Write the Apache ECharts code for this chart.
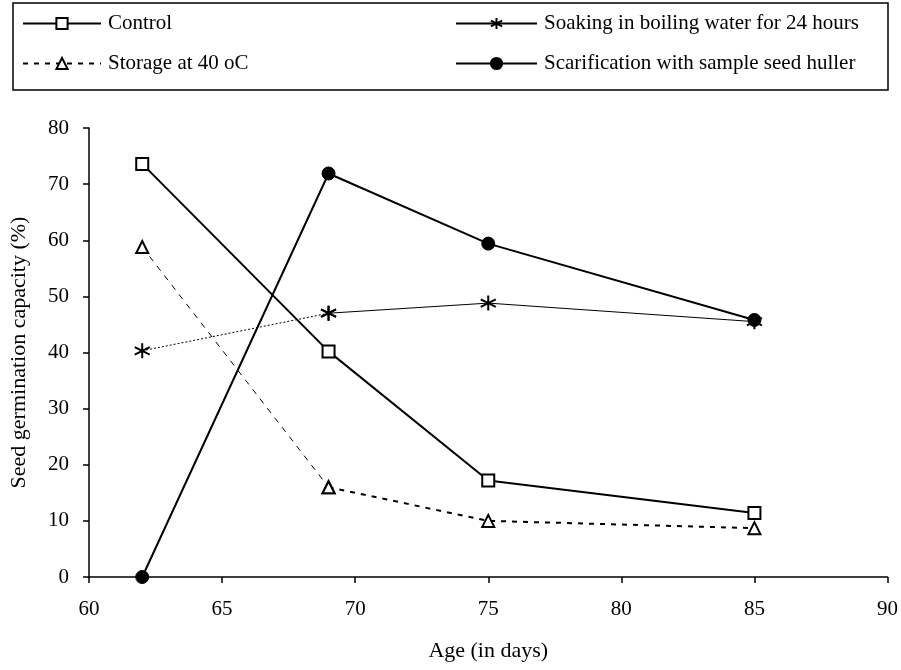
<!DOCTYPE html>
<html>
<head>
<meta charset="utf-8">
<script src="https://cdn.jsdelivr.net/npm/echarts@6/dist/echarts.min.js"></script>
<style>
html,body{margin:0;padding:0;background:#fff;}
#chart{width:901px;height:670px;}
</style>
</head>
<body>
<div id="chart"></div>
<script>
// ---- data ----
var ages = [62, 69, 75, 85];
var control = [73.6, 40.2, 17.2, 11.4];
var soaking = [40.3, 47.0, 48.8, 45.5];
var storage = [58.8, 16.0, 10.0, 8.7];
var scarification = [0, 71.9, 59.4, 45.8];
var seriesNames = ['Control', 'Soaking in boiling water for 24 hours', 'Storage at 40 oC', 'Scarification with sample seed huller'];
var xTicks = [60, 65, 70, 75, 80, 85, 90];
var yTicks = [0, 10, 20, 30, 40, 50, 60, 70, 80];

function pts(vals, from, to) {
  var out = [];
  for (var i = from; i <= to; i++) out.push([ages[i], vals[i]]);
  return out;
}

var FONT = 'Liberation Serif';
var FS = 21;
var starPath = 'path://M0,-10L0,10M-8.66,-5L8.66,5M-8.66,5L8.66,-5';

var chart = echarts.init(document.getElementById('chart'));

function legendAt(name, left, top, w) {
  return {
    data: [name], left: left, top: top, padding: 0, orient: 'horizontal',
    itemWidth: w, itemHeight: 14, itemGap: 0, selectedMode: false,
    textStyle: {fontFamily: FONT, fontSize: FS, color: '#000', padding: [0, 0, 0, 2]}
  };
}

var option = {
  backgroundColor: '#fff',
  animation: false,
  graphic: [{
    type: 'rect', shape: {x: 13, y: 3, width: 875, height: 87},
    style: {fill: 'none', stroke: '#000', lineWidth: 1.5}, z: 10
  }],
  legend: [
    legendAt(seriesNames[0], 22, 13, 78),
    legendAt(seriesNames[2], 22, 53, 78),
    legendAt(seriesNames[1], 455, 13, 81),
    legendAt(seriesNames[3], 455, 53, 81)
  ],
  grid: {left: 88, right: 9, top: 128, bottom: 93, containLabel: false},
  xAxis: {
    type: 'value', min: 60, max: 90, interval: 5,
    name: 'Age (in days)', nameLocation: 'middle', nameGap: 63,
    nameTextStyle: {fontFamily: FONT, fontSize: 22, color: '#000'},
    axisLine: {show: true, onZero: false, lineStyle: {color: '#000', width: 1.5}},
    axisTick: {show: true, length: 6, lineStyle: {color: '#000', width: 1.5}},
    axisLabel: {fontFamily: FONT, fontSize: FS, color: '#000', margin: 22},
    splitLine: {show: false}
  },
  yAxis: {
    type: 'value', min: 0, max: 80, interval: 10,
    name: 'Seed germination capacity (%)', nameLocation: 'middle', nameGap: 59,
    nameTextStyle: {fontFamily: FONT, fontSize: 22, color: '#000'},
    axisLine: {show: true, lineStyle: {color: '#000', width: 1.5}},
    axisTick: {show: true, length: 6, lineStyle: {color: '#000', width: 1.5}},
    axisLabel: {fontFamily: FONT, fontSize: FS, color: '#000', margin: 20},
    splitLine: {show: false}
  },
  series: [
    {
      name: seriesNames[0], type: 'line', data: pts(control, 0, 3), clip: false,
      symbol: 'rect', symbolSize: 12,
      lineStyle: {color: '#000', width: 2},
      itemStyle: {color: '#fff', borderColor: '#000', borderWidth: 2}, z: 3
    },
    {
      name: seriesNames[1] + ' ', type: 'line', data: pts(soaking, 0, 1), clip: false,
      symbol: starPath, symbolSize: 15,
      lineStyle: {color: '#000', width: 1, type: [2, 2]},
      itemStyle: {color: 'none', borderColor: '#000', borderWidth: 2}, z: 2
    },
    {
      name: seriesNames[1], type: 'line', data: pts(soaking, 1, 3), clip: false,
      symbol: starPath, symbolSize: 15,
      lineStyle: {color: '#000', width: 1},
      itemStyle: {color: 'none', borderColor: '#000', borderWidth: 2}, z: 2
    },
    {
      name: seriesNames[2] + ' ', type: 'line', data: pts(storage, 0, 1), clip: false,
      symbol: 'triangle', symbolSize: 12,
      lineStyle: {color: '#000', width: 1, type: [6, 6]},
      itemStyle: {color: '#fff', borderColor: '#000', borderWidth: 2}, z: 2
    },
    {
      name: seriesNames[2], type: 'line', data: pts(storage, 1, 3), clip: false,
      symbol: 'triangle', symbolSize: 12,
      lineStyle: {color: '#000', width: 2, type: [5, 6]},
      itemStyle: {color: '#fff', borderColor: '#000', borderWidth: 2}, z: 2
    },
    {
      name: seriesNames[3], type: 'line', data: pts(scarification, 0, 3), clip: false,
      symbol: 'circle', symbolSize: 13,
      lineStyle: {color: '#000', width: 2},
      itemStyle: {color: '#000', borderColor: '#000', borderWidth: 1}, z: 4
    }
  ]
};
chart.setOption(option);
</script>
</body>
</html>
